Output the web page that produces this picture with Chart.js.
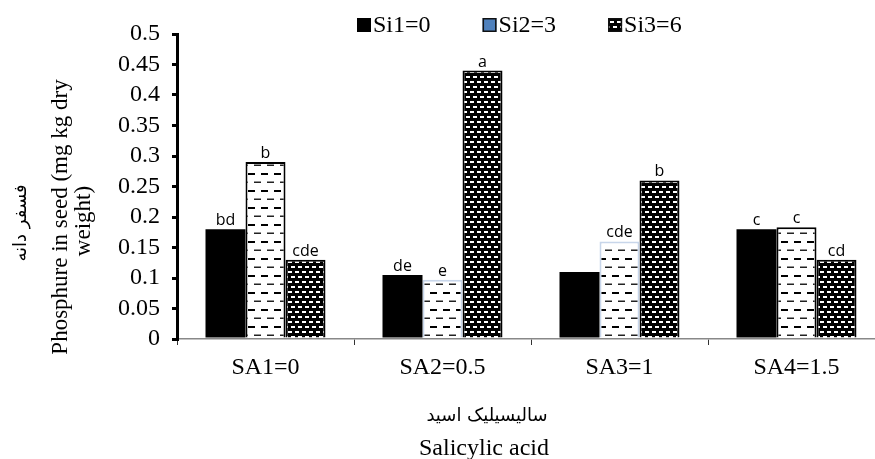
<!DOCTYPE html>
<html>
<head>
<meta charset="utf-8">
<script src="https://cdn.jsdelivr.net/npm/chart.js@4.4.1/dist/chart.umd.min.js"></script>
<style>
    html, body { margin: 0; padding: 0; background: #fff; overflow: hidden; }
    #wrap { width: 885px; height: 459px; position: relative; }
</style>
</head>
<body>
<div id="wrap"><canvas id="phChart"></canvas></div>
<script>
// --- данные ---
const categories = ['SA1=0', 'SA2=0.5', 'SA3=1', 'SA4=1.5'];
const seriesNames = ['Si1=0', 'Si2=3', 'Si3=6'];
const si1Values = [0.18, 0.105, 0.11, 0.18];
const si2Values = [0.29, 0.097, 0.16, 0.183];
const si3Values = [0.13, 0.44, 0.26, 0.13];
const si1Letters = ['bd', 'de', '', 'c'];
const si2Letters = ['b', 'e', 'cde', 'c'];
const si3Letters = ['cde', 'a', 'b', 'cd'];
const yMin = 0, yMax = 0.5, yStep = 0.05;
const yTitleFa = 'فسفر دانه';
const yTitleEn = ['Phosphure in seed (mg kg dry', 'weight)'];
const xTitleFa = 'سالیسیلیک اسید';
const xTitleEn = 'Salicylic acid';

const SERIF = '"Liberation Serif", "Times New Roman", serif';

const ctx = document.getElementById('phChart').getContext('2d');

// --- штриховки ---
function makePattern(w, h, bg, draw) {
    const c = document.createElement('canvas');
    c.width = w; c.height = h;
    const p = c.getContext('2d');
    p.fillStyle = bg; p.fillRect(0, 0, w, h);
    draw(p);
    return ctx.createPattern(c, 'repeat');
}
const dashPattern = makePattern(13, 17, '#fff', p => {
    p.fillStyle = '#000';
    p.fillRect(1, 3, 7, 2);
    p.fillStyle = '#222';
    p.fillRect(7, 11.5, 6, 1.5);
    p.fillRect(0, 11.5, 1, 1.5);
});
const dotPattern = makePattern(14, 10, '#000', p => {
    p.fillStyle = '#fff';
    p.fillRect(1, 1, 4, 2); p.fillRect(8, 1, 4, 2);
    p.fillRect(4, 6, 4, 2); p.fillRect(11, 6, 3, 2); p.fillRect(0, 6, 1, 2);
});

const letters = [si1Letters, si2Letters, si3Letters];

// буквы над столбцами
const letterPlugin = {
    id: 'letters',
    afterDatasetsDraw(chart) {
        const c = chart.ctx;
        c.save();
        c.font = '16px "Open Sans", sans-serif';
        c.fillStyle = '#000';
        c.textAlign = 'center';
        c.textBaseline = 'alphabetic';
        chart.data.datasets.forEach((ds, i) => {
            chart.getDatasetMeta(i).data.forEach((bar, j) => {
                const t = letters[i][j];
                if (t) c.fillText(t, bar.x, bar.y - 4);
            });
        });
        c.restore();
    }
};

// легенда и подписи осей
const decorPlugin = {
    id: 'decor',
    afterDraw(chart) {
        const c = chart.ctx;
        c.save();
        // legend
        c.font = '24px ' + SERIF;
        c.textBaseline = 'alphabetic';
        c.textAlign = 'left';
        let x = 357;
        const boxFill = ['#000', '#4f81bd', dotPattern];
        seriesNames.forEach((name, i) => {
            c.fillStyle = boxFill[i];
            c.fillRect(x, 18, 14, 14);
            if (i > 0) { c.strokeStyle = '#111'; c.lineWidth = 1.5; c.strokeRect(x + 0.75, 18.75, 12.5, 12.5); }
            c.fillStyle = '#000';
            c.fillText(name, x + 16, 32);
            x += 16 + c.measureText(name).width + 52;
        });

        // y title
        c.textAlign = 'center';
        c.font = '23px ' + SERIF;
        [[67, 217], [90, 221]].forEach(([tx, ty], k) => {
            c.save(); c.translate(tx, ty); c.rotate(-Math.PI / 2);
            c.fillText(yTitleEn[k], 0, 0);
            c.restore();
        });
        c.save(); c.translate(21, 223); c.rotate(-Math.PI / 2);
        c.font = '18px "DejaVu Sans", sans-serif';
        c.textBaseline = 'middle';
        c.fillText(yTitleFa, 0, 0);
        c.restore();

        // x title
        c.font = '18px "DejaVu Sans", sans-serif';
        c.textBaseline = 'middle';
        c.fillText(xTitleFa, 487, 416);
        c.font = '24px ' + SERIF;
        c.textBaseline = 'alphabetic';
        c.fillText(xTitleEn, 484, 455);
        c.restore();
    }
};

new Chart(ctx, {
    type: 'bar',
    data: {
        labels: categories,
        datasets: [
            { label: seriesNames[0], data: si1Values, backgroundColor: '#000', borderWidth: 0 },
            { label: seriesNames[1], data: si2Values, backgroundColor: dashPattern,
              borderColor: ['#000', '#c8d6ea', '#c8d6ea', '#000'], borderWidth: 2 },
            { label: seriesNames[2], data: si3Values, backgroundColor: dotPattern, borderColor: '#000', borderWidth: 2 }
        ]
    },
    options: {
        responsive: true, maintainAspectRatio: false, animation: false,
        layout: { padding: { top: 34, left: 0, right: 0, bottom: 0 } },
        datasets: { bar: { categoryPercentage: 0.678, barPercentage: 1 } },
        scales: {
            x: {
                afterFit(scale) { scale.height = 120; },
                border: { color: '#888', width: 1.5 },
                grid: { drawOnChartArea: false, color: '#333', lineWidth: 1, tickLength: 6, offset: true },
                ticks: { color: '#000', font: { family: SERIF, size: 24 }, padding: 8 }
            },
            y: {
                min: yMin, max: yMax,
                afterFit(scale) { scale.width = 177; },
                border: { color: '#000', width: 3 },
                grid: { drawOnChartArea: false, color: '#000', lineWidth: 3, tickLength: 5 },
                ticks: {
                    stepSize: yStep, color: '#000', padding: 12, autoSkip: false,
                    font: { family: SERIF, size: 24 },
                    callback: v => String(+v.toFixed(2))
                }
            }
        },
        plugins: { legend: { display: false }, tooltip: { enabled: false } }
    },
    plugins: [letterPlugin, decorPlugin]
});
</script>
</body>
</html>
